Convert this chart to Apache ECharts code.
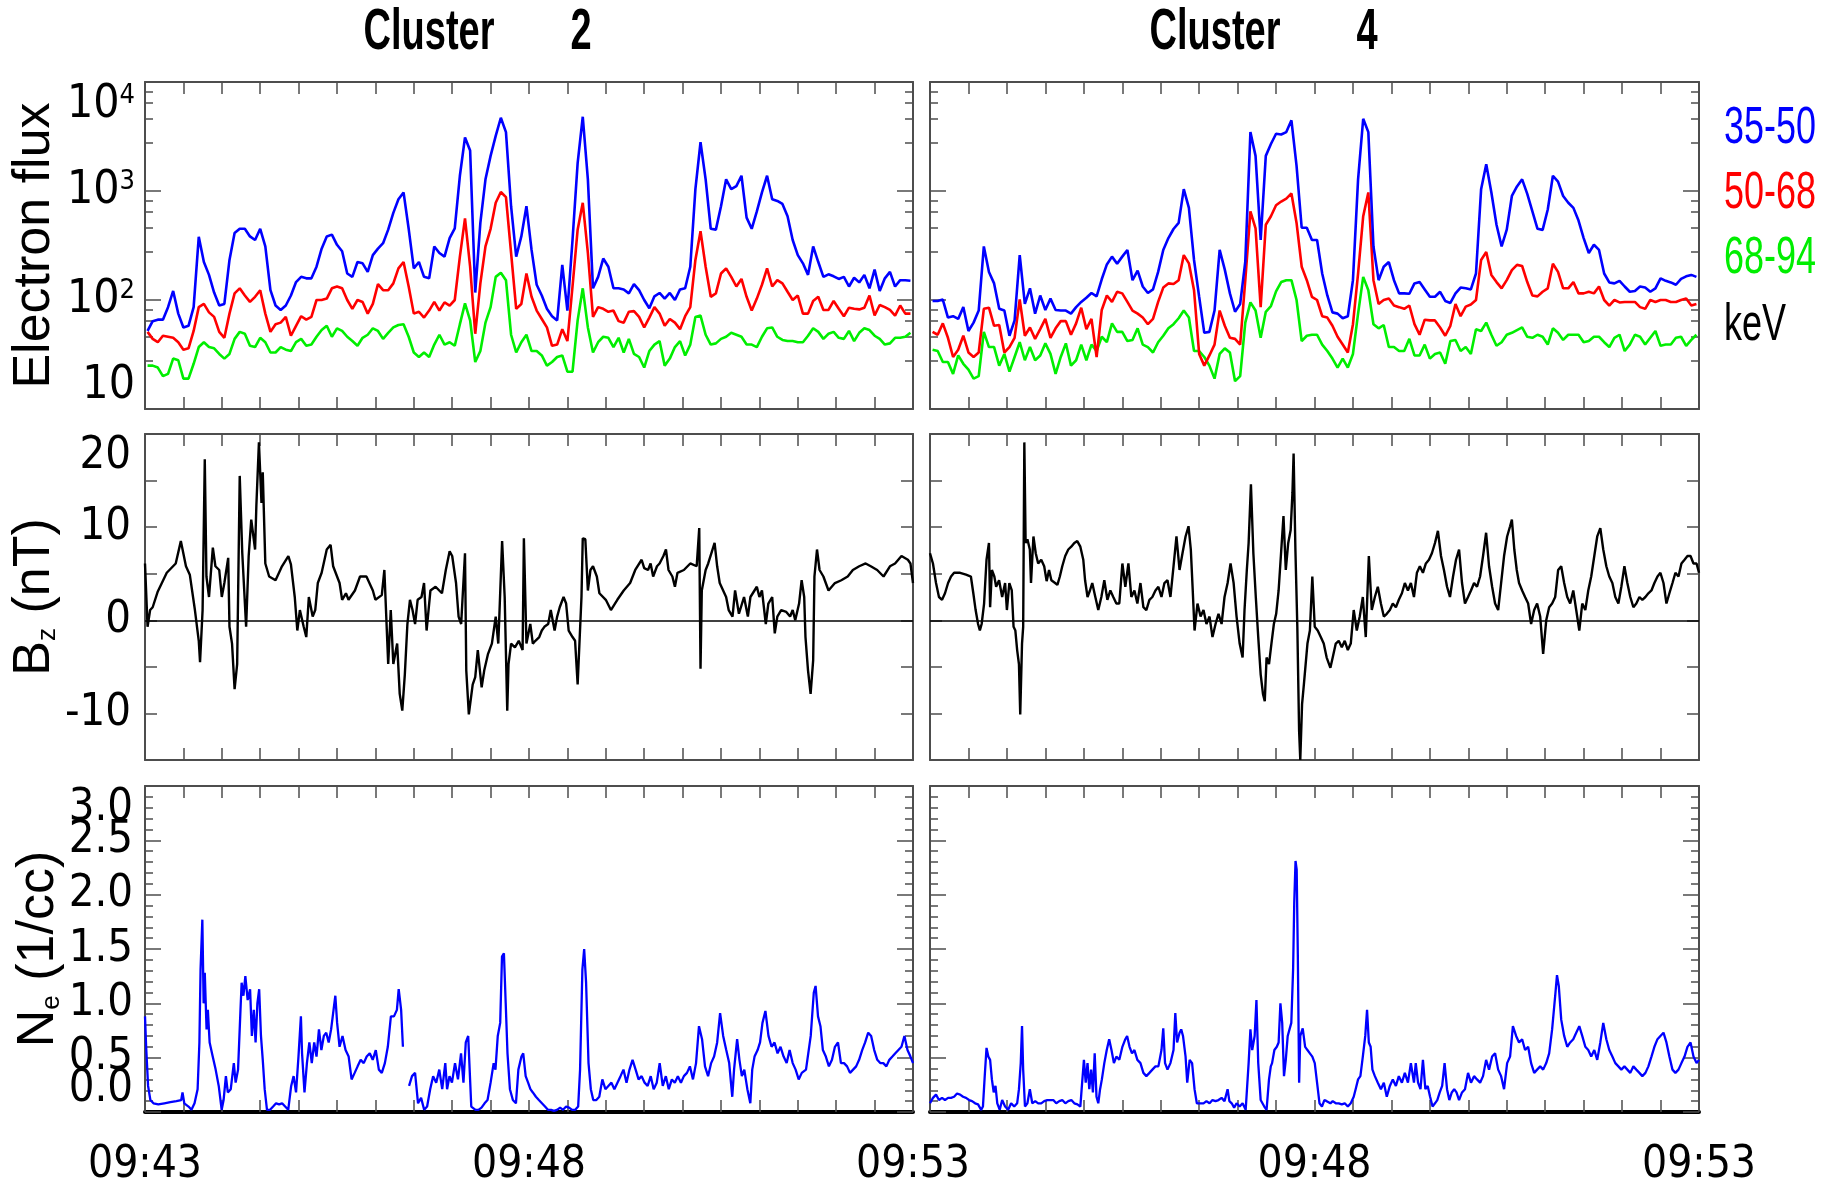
<!DOCTYPE html>
<html>
<head>
<meta charset="utf-8">
<script src="https://cdn.jsdelivr.net/npm/echarts@6/dist/echarts.min.js"></script>
<style>
  html, body { margin: 0; padding: 0; background: #ffffff; }
  #chart { width: 1843px; height: 1186px; }
</style>
</head>
<body>
<div id="chart"></div>
<script>
// ---- Electron flux (4 s spin resolution, first sample 09:43:02) ----
const FLUX_T0 = 2, FLUX_DT = 4;

const c2Flux35_50 = [
  52,64,66,66,86,121,75,56,58,86, 380,223,170,117,89,92,233,411,450,450,
  383,355,450,310,123,89,81,89,110,146, 163,158,158,202,296,383,398,321,280,175,
  163,223,217,181,258,296,332,442,630,840, 970,450,195,223,163,158,310,270,250,370,
  455,1380,3100,2350,117,509,1280,2100,3200,4700, 3470,725,250,383,725,
  288,138,110,83,71,65,210,80,355,1800, 4800,1280,128,163,240,202,128,128,125,115,
  140,123,100,84,108,116,103,116,100,125, 128,202,1040,2800,1280,450,442,725,1280,1040,
  1110,1380,570,450,650,970,1380,840,810,760, 587,355,258,217,170,310,223,163,172,165,
  156,163,133,160,145,170,128,190,121,158, 181,133,152,152,150
];
const c2Flux50_68 = [
  51,44,41,47,46,45,41,35,36,52, 86,92,77,70,51,45,75,115,128,110,
  96,107,123,75,51,60,62,70,47,58, 71,66,70,100,100,103,128,133,128,100,
  83,100,96,75,92,140,123,123,142,195, 223,133,75,78,69,80,96,80,95,89,
  100,250,560,202,49,142,310,450,780,980, 880,270,83,92,175,
  107,80,67,56,38,39,54,42,133,442, 780,270,70,86,83,78,80,64,62,78,
  79,70,56,69,86,75,58,67,62,54, 71,86,233,427,202,107,115,175,195,163,
  133,156,107,80,103,138,195,133,152,142, 119,100,110,75,75,98,107,81,81,98,
  83,71,85,83,82,85,110,72,90,86, 81,72,89,75,75
];
const c2Flux68_94 = [
  25,25,24,20,21,29,28,19,19,26, 37,41,37,36,32,29,32,44,51,49,
  38,37,45,41,33,33,37,35,34,41, 44,38,39,46,53,58,46,55,52,46,
  42,38,45,48,55,52,44,50,56,59, 60,46,33,30,33,30,39,48,39,41,
  38,60,93,65,27,34,62,86,163,178, 152,48,33,41,48,
  34,34,31,25,27,30,31,22,22,65, 128,56,33,41,46,45,37,45,33,44,
  32,30,24,34,39,42,25,29,37,42, 31,39,70,72,48,39,40,44,46,50,
  48,46,39,39,37,46,55,56,46,43, 42,42,41,41,47,55,51,44,49,51,
  45,44,52,42,50,55,53,47,44,39, 40,45,45,46,50
];
const c4Flux35_50 = [
  98,98,101,69,71,67,86,52,62,80, 310,181,142,83,80,47,65,258,92,128,
  75,110,81,103,81,80,80,75,86,96, 105,116,108,155,212,250,215,250,288,152,
  186,133,116,125,181,288,370,448,510,1040, 700,233,107,50,51,80,288,190,115,78,
  92,225,3470,2100,355,2100,2700,3350,3300,3470, 4450,1700,460,460,355,
  355,175,110,77,75,68,71,152,1280,4600, 3470,310,152,202,223,152,115,115,114,142,
  146,125,107,107,119,98,94,115,130,128, 125,175,1040,1760,970,490,310,442,900,1100,
  1280,940,650,450,440,676,1380,1220,900,780, 700,535,370,270,321,288,175,145,142,150,
  133,119,121,133,130,119,128,158,150,145, 138,156,165,170,163
];
const c4Flux50_68 = [
  51,48,61,45,30,35,47,33,30,33, 83,85,58,59,33,37,45,101,47,56,
  44,54,67,45,55,64,64,48,61,85, 54,67,30,81,110,96,119,115,96,80,
  75,69,60,67,96,130,142,140,152,258, 217,123,32,25,31,39,80,58,45,44,
  39,152,650,455,86,490,587,740,800,850, 950,509,202,152,107,
  100,71,69,58,46,39,33,60,175,587, 970,152,92,100,103,89,86,83,89,60,
  48,66,65,65,56,47,58,92,71,87, 91,100,233,276,170,146,128,152,188,210,
  205,146,110,108,119,128,215,181,128,128, 146,115,115,119,115,133,100,89,100,95,
  96,96,96,86,83,100,96,100,100,96, 96,100,103,89,92
];
const c4Flux68_94 = [
  35,34,27,27,21,31,26,23,19,20, 51,37,37,25,32,22,30,41,28,37,
  28,31,40,32,21,30,40,25,28,39, 28,39,34,46,41,61,51,51,42,43,
  55,39,37,33,41,47,55,60,68,80, 69,34,34,30,25,19,32,36,33,18,
  20,62,95,80,45,78,88,120,146,152, 152,100,42,47,48,
  48,39,34,29,24,29,24,32,75,163, 123,60,55,59,37,37,34,34,44,31,
  31,39,29,32,33,26,42,43,34,37, 32,54,52,62,48,38,41,48,50,53,
  56,46,45,48,46,39,55,50,43,48, 48,48,41,42,46,46,41,37,45,48,
  34,39,48,46,39,45,52,38,39,39, 45,46,38,43,48
];

// ---- Bz (nT), [seconds after 09:43:00, value] ----
const c2Bz = [
  [0,6.1],[2,-0.7],[4,1.1],[6,1.4],[10,3.1],[17,5.1],[24,6.1],[28,8.5],[32,5.8],[35,4.9],
  [39,1.1],[42,-2.2],[43,-4.5],[45,1.1],[46.7,17.3],[48,4.7],[50,2.5],[53,7.8],[55,5.8],[58,5.4],
  [60,2.5],[62,4.0],[65,6.7],[66,-0.7],[68,-2.5],[70,-7.4],[72,-4.7],[74,15.5],[76,7.2],[79,-0.7],
  [81,6.9],[83,10.8],[86,7.6],[87,12.3],[89,19.1],[91,12.6],[92,15.9],[94,6.1],[97,4.7],[102,4.3],
  [107,5.8],[112,6.9],[114,6.0],[117,2.5],[119,-1.1],[121,1.1],[124,-0.7],[126,-1.8],[128,2.5],[131,0.4],
  [133,1.1],[135,4.0],[138,5.1],[142,7.6],[145,8.1],[147,5.8],[152,4.0],[154,2.2],[157,2.9],[159,2.2],
  [164,3.2],[168,4.7],[173,4.7],[178,3.2],[180,2.2],[185,2.7],[187,5.4],[190,-4.7],[192,1.1],[194,-4.7],
  [197,-2.5],[199,-7.9],[201,-9.7],[203,-5.8],[205,-0.4],[207,2.2],[209,1.1],[211,-0.4],[213,2.2],[216,2.5],
  [218,4.0],[220,-1.1],[223,3.2],[227,3.6],[232,2.9],[235,5.4],[238,7.4],[240,6.9],[243,4.0],[245,0.4],
  [247,-0.4],[250,7.2],[251,-5.4],[253,-10.1],[256,-6.9],[258,-6.1],[260,-3.2],[263,-7.2],[265,-5.4],[268,-3.6],
  [271,-2.5],[274,0.4],[276,-2.5],[277,1.1],[279,8.5],[281,2.5],[283,-9.7],[284,-4.7],[286,-2.5],[289,-2.9],
  [292,-2.2],[295,-3.2],[296,8.8],[298,-2.5],[301,-0.4],[303,-2.5],[305,-2.2],[308,-1.8],[310,-1.1],[312,-0.7],
  [315,-0.4],[317,1.1],[320,-1.1],[322,0.4],[324,1.4],[327,2.5],[329,1.8],[331,-1.1],[334,-1.8],[336,-2.2],
  [338,-6.9],[341,2.5],[342,8.8],[344,8.7],[346,3.2],[348,5.4],[350,5.8],[353,4.7],[355,2.9],[360,2.2],
  [364,1.1],[369,2.2],[374,3.2],[379,4.0],[383,5.4],[388,6.5],[390,5.6],[393,5.4],[395,6.1],[397,4.7],
  [400,5.8],[402,6.1],[405,6.9],[407,7.6],[409,5.4],[412,4.7],[414,3.6],[416,5.1],[421,5.4],[426,6.1],
  [431,5.8],[433,9.9],[434,-5.2],[435,3.2],[438,5.4],[440,6.1],[445,8.3],[447,5.8],[449,4.0],[454,2.5],
  [456,1.1],[459,0.4],[461,3.2],[464,0.7],[468,2.5],[471,0.4],[473,2.5],[478,3.6],[480,2.5],[482,3.2],
  [485,-0.4],[487,1.8],[490,2.5],[492,-1.4],[494,0.4],[497,1.1],[501,0.9],[504,0.4],[506,1.1],[508,0],
  [511,1.8],[513,4.3],[515,2.5],[516,-1.8],[518,-5.4],[520,-7.9],[522,-4.3],[523,4.7],[525,7.6],[527,5.4],
  [530,4.7],[534,3.2],[539,4.0],[544,4.3],[549,4.7],[553,5.4],[558,5.8],[563,6.1],[567,5.8],[572,5.4],
  [577,4.7],[582,5.8],[586,6.1],[591,6.9],[596,6.5],[598,6.1],[600,4.0]
];
const c4Bz = [
  [0,7.2],[2.3,6.1],[4.7,4.0],[7,2.5],[9.4,2.2],[11.7,2.9],[14.1,4.0],[16.4,4.7],[18.8,5.1],[23.5,5.1],
  [28.1,4.9],[31.9,4.7],[33.8,2.9],[35.6,1.1],[37.5,-0.4],[38.9,-1.1],[40.3,-0.4],[42.2,1.8],[44.1,6.5],[46,8.3],
  [46.9,1.4],[48.3,5.4],[50.2,4.7],[51.6,3.6],[53.9,4.3],[56.3,2.5],[58.6,4.0],[60,1.1],[61.9,4.0],[63.8,3.2],
  [65.2,-0.7],[66.6,-1.1],[68,-3.2],[69.4,-4.7],[70.4,-10.1],[71.8,-2.5],[72.7,-0.7],[73.6,19.1],[74.6,8.3],[76,8.7],
  [77.9,7.6],[78.8,4.0],[80.7,9.0],[82.5,7.2],[84.4,6.1],[86.8,6.5],[89.1,5.8],[91,4.2],[92.9,5.4],[94.7,4.3],
  [97.6,4.0],[99.4,3.8],[101.3,4.7],[103.2,5.8],[105.5,6.9],[107.9,7.6],[110.2,7.9],[112.6,8.3],[114.9,8.5],[117.3,7.9],
  [119.6,6.5],[121,4.3],[122.9,2.5],[124.8,3.2],[126.6,4.0],[129,2.5],[131.3,1.1],[133.7,2.5],[136,4.3],[138.4,2.2],
  [140.7,3.2],[143,2.5],[145.4,1.8],[147.7,1.8],[150.1,6.1],[152.4,3.6],[154.8,6.1],[157.1,2.5],[159.5,3.2],[161.8,1.8],
  [164.2,4.0],[166.5,1.4],[168.8,1.1],[171.2,2.2],[173.5,2.5],[175.9,3.2],[178.2,3.6],[180.6,2.5],[182.9,4.0],[185.3,4.3],
  [187.6,2.5],[190,5.8],[192.3,9.0],[194.7,5.4],[197,7.2],[199.4,9.0],[201.7,10.1],[203.5,7.6],[205,3.2],[206.4,-1.1],
  [208.7,1.8],[211.1,0.4],[213.4,1.1],[215.7,-0.4],[218.1,0.4],[220.4,-1.8],[222.8,-0.4],[225.1,0.7],[227.5,-0.4],[229.8,2.5],
  [232.2,4.0],[234.5,6.1],[236.9,4.0],[239.2,0.4],[241.6,-2.5],[243.9,-4.0],[245.4,1.1],[247.2,5.4],[248.6,8.3],[250.4,14.6],
  [252.3,7.2],[254.2,2.5],[256.1,-1.8],[258,-5.8],[259.8,-7.9],[261.2,-8.7],[262.6,-4.0],[264.5,-4.7],[266.4,-2.5],[268.3,-0.4],
  [270.1,0.7],[272,3.2],[273.9,7.2],[275.8,11.2],[277.6,5.4],[279.5,8.3],[281.4,9.7],[282.8,13.7],[283.7,17.9],[285.1,7.6],
  [286.6,-0.7],[288,-11.9],[288.9,-15],[290.3,-9.0],[291.7,-6.9],[293.1,-4.7],[294.5,-2.5],[296.4,-1.1],[298.3,4.7],[300.2,-0.7],
  [302.5,-1.1],[304.9,-1.8],[307.2,-2.5],[309.5,-4.0],[312.4,-5.1],[314.2,-4.0],[316.6,-2.5],[318.9,-2.2],[321.3,-2.9],[323.6,-2.2],
  [326,-3.2],[328.3,-2.5],[330.6,1.1],[333,-1.1],[335.3,0.4],[337.7,2.5],[340,-1.8],[342.4,6.9],[344.7,1.1],[347.1,2.5],
  [349.4,3.6],[351.8,1.8],[354.1,0.4],[356.4,0.7],[358.8,1.1],[361.1,1.8],[363.5,1.4],[365.8,2.2],[368.2,2.9],[370.5,4.0],
  [372.9,3.2],[375.2,4.0],[377.6,2.5],[379.9,5.1],[382.2,5.8],[384.6,5.1],[386.9,6.1],[389.3,6.5],[391.6,7.2],[394,8.3],
  [396.3,9.6],[398.7,6.9],[401,5.4],[403.4,3.6],[405.7,2.5],[408.1,4.7],[410.4,6.5],[412.8,7.6],[415.1,4.0],[417.4,1.8],
  [419.8,2.5],[422.1,3.2],[424.5,4.0],[426.8,3.6],[429.2,4.7],[431.5,6.9],[433.9,9.4],[436.2,5.8],[438.6,3.6],[440.9,1.8],
  [443.3,1.1],[445.6,4.0],[447.9,6.9],[450.3,9.0],[452.6,10.1],[454,10.8],[455.9,7.6],[457.8,5.4],[459.6,4.0],[462,3.2],
  [464.3,2.5],[466.7,1.8],[469,-0.4],[471.4,1.1],[473.7,1.8],[476.1,0.4],[478.4,-3.6],[480.8,0],[483.1,1.4],[485.4,1.8],
  [487.8,2.5],[490.1,5.4],[492.5,5.8],[494.8,4.0],[497.2,2.5],[499.5,1.8],[501.9,3.2],[504.2,1.1],[506.6,-1.1],[508.9,1.8],
  [511.3,1.1],[513.6,3.2],[515.9,4.7],[518.3,6.9],[520.6,9.0],[523,9.9],[525.3,7.6],[527.7,5.8],[530,4.7],[532.4,4.0],
  [534.7,2.5],[537.1,1.8],[539.4,3.6],[541.8,5.8],[544.1,4.0],[546.4,2.5],[548.8,1.4],[551.1,1.8],[553.5,2.5],[555.8,2.2],
  [558.2,2.5],[560.5,2.9],[562.9,3.2],[565.2,4.0],[567.6,4.7],[569.9,5.1],[572.3,4.0],[574.6,1.8],[576.9,2.9],[579.3,4.0],
  [581.6,5.1],[584,4.7],[586.3,6.1],[588.7,6.5],[591,6.9],[593.4,6.9],[595.7,6.1],[598.1,6.1],[600,5.1]
];

// ---- Electron density Ne (1/cc), [seconds after 09:43:00, value]; null marks a data gap ----
const c2Ne = [
  [0,0.88],[0.9,0.6],[2.4,0.24],[4.2,0.11],[6.6,0.08],[10.4,0.07],[15.1,0.08],[19.8,0.09],[24.5,0.1],[28.3,0.11],
  [29.3,0.18],[30.7,0.08],[34,0.05],[36.3,0.02],[38.7,0.08],[41.1,0.21],[42.5,0.64],[43.4,1.31],[44.8,1.77],[45.8,1.0],
  [46.7,1.28],[48.1,0.76],[49.1,0.94],[50.5,0.64],[52.9,0.51],[55.2,0.39],[57.6,0.24],[59.9,0.02],[61.4,0.11],[63.2,0.33],
  [64.7,0.18],[67,0.21],[69.4,0.45],[70.8,0.27],[72.7,0.39],[74.6,0.94],[75.5,1.19],[76.9,1.07],[78.4,1.25],[80.2,1.03],
  [82.1,1.13],[83.5,0.7],[85,0.94],[86.4,0.64],[87.8,1.0],[89.2,1.13],[90.6,0.7],[92,0.48],[93.5,0.21],[95.3,0.02],
  [97.7,0.02],[100.1,0.05],[102.4,0.08],[104.8,0.07],[107.1,0.08],[109.5,0.05],[111.9,0.02],[114.2,0.24],[116.1,0.33],[118,0.18],
  [119.9,0.51],[121.8,0.88],[122.7,0.54],[124.6,0.18],[126.5,0.45],[128.4,0.64],[130.3,0.45],[132.2,0.64],[134,0.51],[135.9,0.76],
  [137.8,0.57],[139.7,0.7],[141.6,0.73],[143.5,0.64],[145.4,0.76],[147.3,0.94],[148.7,1.07],[150.1,0.82],[152,0.6],[154.3,0.7],
  [156.7,0.57],[159.1,0.51],[161.4,0.3],[163.8,0.36],[166.1,0.42],[168.5,0.48],[170.9,0.45],[173.2,0.51],[175.6,0.54],[177.9,0.48],
  [180.3,0.57],[182.7,0.39],[185,0.36],[187.4,0.45],[189.7,0.6],[192.1,0.88],[194.5,0.88],[196.8,0.94],[198.2,1.13],[200.1,0.94],
  [201.5,0.6],[204,null],
  [206.3,0.24],[208.6,0.33],[211,0.36],[213.3,0.08],[215.7,0.13],[218.1,0.02],[220.4,0.05],[222.8,0.21],[225.1,0.33],[227.5,0.27],
  [229.9,0.39],[232.2,0.21],[234.6,0.45],[236,0.21],[237.9,0.33],[239.8,0.27],[242.2,0.45],[244.5,0.3],[246.9,0.54],[248.8,0.27],
  [250.6,0.64],[252.5,0.7],[254.9,0.05],[255.8,0.04],[258.2,0.02],[260.5,0.02],[262.9,0.04],[265.3,0.08],[267.6,0.11],[270,0.27],
  [272.4,0.45],[273.8,0.39],[275.6,0.7],[277.5,0.82],[278.9,1.43],[280.4,1.46],[281.8,1.0],[283.2,0.54],[285.1,0.21],[287.4,0.11],
  [289.8,0.08],[291.7,0.39],[294.1,0.51],[295.5,0.54],[297.4,0.33],[299.3,0.27],[301.1,0.21],[303,0.18],[305.4,0.14],[307.7,0.11],
  [310.1,0.08],[312.5,0.05],[314.8,0.02],[317.2,0.02],[319.5,0.01],[321.9,0.02],[324.3,0.04],[326.6,0.02],[329,0.05],[331.3,0.04],
  [333.7,0.02],[336.1,0.02],[338.4,0.05],[339.9,0.39],[341.7,1.31],[343.1,1.5],[344.6,1.19],[346.5,0.45],[348.3,0.21],[350.2,0.11],
  [352.6,0.11],[354.9,0.14],[357.3,0.3],[359.7,0.21],[362,0.24],[364.4,0.27],[366.7,0.21],[369.1,0.27],[371.5,0.33],[373.8,0.39],
  [376.2,0.27],[378.5,0.39],[380.9,0.48],[383.3,0.39],[385.6,0.3],[388,0.33],[390.3,0.27],[392.7,0.24],[395.1,0.33],[397.4,0.21],
  [399.8,0.27],[402.1,0.45],[404.5,0.24],[406.9,0.33],[409.2,0.21],[411.6,0.3],[413.9,0.27],[416.3,0.33],[418.7,0.27],[421,0.33],
  [423.4,0.36],[425.7,0.42],[428.1,0.3],[430.5,0.45],[432.8,0.79],[435.2,0.67],[437.5,0.42],[439.9,0.33],[442.3,0.45],[444.6,0.51],
  [447,0.64],[449.3,0.91],[451.7,0.7],[454.1,0.57],[456.4,0.45],[458.8,0.14],[460.2,0.39],[462.6,0.67],[464.4,0.48],[466.3,0.33],
  [468.2,0.39],[470.6,0.21],[472.9,0.08],[474.4,0.39],[476.2,0.51],[478.6,0.57],[480.5,0.64],[482.4,0.82],[484.7,0.93],[487.1,0.7],
  [489.5,0.6],[491.8,0.64],[494.2,0.54],[496.5,0.6],[498.9,0.51],[501.3,0.45],[503.6,0.57],[506,0.45],[508.3,0.39],[510.7,0.3],
  [513.1,0.36],[516.4,0.39],[520.1,0.7],[522.5,1.1],[523.9,1.16],[525.8,0.88],[527.7,0.79],[529.6,0.57],[531.9,0.51],[534.3,0.42],
  [536.7,0.48],[539,0.6],[541.4,0.64],[543.7,0.45],[546.1,0.45],[548.5,0.42],[550.8,0.36],[553.2,0.39],[555.6,0.42],[557.9,0.48],
  [560.3,0.57],[562.6,0.64],[565,0.73],[567.3,0.7],[569.7,0.57],[572.1,0.48],[574.4,0.45],[576.8,0.45],[579.2,0.42],[581.5,0.48],
  [583.9,0.51],[586.2,0.54],[588.6,0.57],[591,0.6],[593.3,0.7],[595.7,0.57],[598,0.51],[600,0.45]
];
const c4Ne = [
  [0,0.08],[2.3,0.13],[4.7,0.16],[7,0.11],[9.4,0.13],[11.7,0.11],[14.1,0.13],[16.4,0.13],[18.8,0.14],[21.1,0.17],
  [23.5,0.16],[25.8,0.14],[28.1,0.13],[30.5,0.11],[32.8,0.1],[35.2,0.08],[37.5,0.07],[39.9,0.02],[41.3,0.05],[42.7,0.33],
  [44.1,0.59],[45.5,0.51],[46.9,0.48],[48.3,0.3],[49.7,0.18],[51.1,0.24],[52.5,0.08],[54.4,0.02],[56.3,0.11],[58.6,0.05],
  [61,0.02],[63.3,0.08],[65.7,0.05],[68,0.08],[69.4,0.21],[70.8,0.45],[71.8,0.79],[72.7,0.39],[74.1,0.05],[76,0.08],
  [77.9,0.21],[79.8,0.08],[82.1,0.1],[84.4,0.08],[86.8,0.08],[89.1,0.1],[91.5,0.11],[93.8,0.11],[96.2,0.11],[98.5,0.08],
  [100.9,0.1],[103.2,0.11],[105.6,0.08],[107.9,0.1],[110.3,0.11],[112.6,0.08],[115,0.07],[117.3,0.05],[118.7,0.27],[120.1,0.48],
  [121.5,0.27],[122.9,0.45],[124.3,0.21],[125.7,0.39],[127.1,0.18],[128.5,0.54],[129.9,0.14],[131.3,0.08],[132.7,0.21],[134.1,0.3],
  [136,0.45],[137.9,0.57],[139.8,0.67],[141.6,0.57],[143.5,0.45],[145.4,0.51],[147.7,0.48],[150.1,0.6],[152.4,0.67],[153.8,0.7],
  [155.7,0.6],[157.6,0.54],[159.5,0.57],[161.8,0.48],[164.2,0.45],[166.5,0.36],[168.8,0.33],[171.2,0.36],[173.5,0.39],[175.9,0.42],
  [178.2,0.42],[180.6,0.57],[182,0.77],[183.4,0.45],[185.3,0.39],[187.6,0.45],[190,0.57],[191.4,0.91],[192.8,0.64],[194.7,0.73],
  [196,0.76],[197.4,0.7],[199.4,0.51],[200.7,0.27],[202.6,0.48],[204.5,0.45],[206.4,0.21],[208.2,0.08],[211.1,0.08],[213.4,0.08],
  [215.7,0.1],[218.1,0.08],[220.4,0.11],[222.8,0.1],[225.1,0.11],[227.5,0.13],[229.8,0.1],[232.2,0.21],[233.6,0.1],[235.4,0.08],
  [237.3,0.04],[239.2,0.08],[241.6,0.05],[243.9,0.08],[246.3,0.02],[248.6,0.45],[250,0.76],[251.4,0.57],[253.3,0.7],[254.7,1.03],
  [256.1,0.45],[258,0.11],[259.4,0.08],[260.8,0.05],[262.6,0.02],[264.5,0.3],[265.9,0.42],[266.9,0.45],[268.7,0.57],[270.6,0.6],
  [272,0.64],[273.4,1.0],[274.8,0.82],[276.2,0.33],[277.6,0.48],[279.1,0.7],[280.5,0.76],[281.9,0.82],[283.3,1.31],[284.2,1.93],
  [285.2,2.31],[286.1,2.23],[287,1.43],[288,0.27],[288.9,0.7],[290.8,0.77],[292.7,0.6],[294.5,0.57],[296.4,0.54],[298.3,0.51],
  [300.2,0.45],[302,0.27],[303.9,0.08],[305.8,0.05],[307.7,0.11],[309.5,0.1],[312.4,0.08],[314.2,0.1],[316.6,0.08],[318.9,0.08],
  [321.3,0.07],[323.6,0.08],[326,0.05],[328.3,0.08],[330.6,0.14],[332.1,0.21],[334,0.3],[335.8,0.33],[337.7,0.51],[339.6,0.7],
  [341,0.94],[342.4,0.64],[343.8,0.6],[345.2,0.39],[347.1,0.33],[349.4,0.27],[351.8,0.21],[354.1,0.27],[356.4,0.14],[358.8,0.24],
  [361.1,0.3],[363.5,0.24],[365.8,0.33],[368.2,0.27],[370.5,0.36],[372.9,0.27],[375.2,0.45],[377.6,0.27],[379,0.45],[380.8,0.27],
  [382.7,0.21],[384.6,0.48],[386.5,0.21],[388.3,0.24],[390.2,0.14],[392.1,0.05],[394,0.08],[395.8,0.11],[397.7,0.18],[399.6,0.24],
  [401.5,0.45],[403.4,0.21],[405.2,0.11],[407.1,0.18],[409,0.21],[410.8,0.18],[412.8,0.11],[415.1,0.18],[417.4,0.21],[419.8,0.36],
  [422.1,0.27],[424.5,0.33],[426.8,0.3],[429.2,0.27],[431.5,0.33],[433.9,0.48],[436.2,0.39],[438.6,0.51],[440.9,0.54],[443.3,0.39],
  [445.6,0.33],[447.9,0.21],[450.3,0.45],[452.6,0.51],[454.8,0.79],[457.3,0.7],[459.6,0.64],[462,0.67],[464.3,0.57],[466.7,0.6],
  [469,0.45],[471.4,0.36],[473.7,0.39],[476.1,0.42],[478.4,0.39],[480.8,0.45],[483.1,0.54],[485.4,0.76],[487.8,1.07],[489.2,1.26],
  [490.6,1.16],[492.5,0.85],[494.8,0.7],[497.2,0.6],[499.5,0.64],[501.9,0.67],[504.2,0.73],[506.6,0.79],[508.9,0.7],[511.3,0.6],
  [513.6,0.57],[515.9,0.51],[518.3,0.57],[520.6,0.48],[523,0.64],[525.3,0.82],[527.7,0.67],[530,0.57],[532.4,0.51],[534.7,0.45],
  [537.1,0.42],[539.4,0.39],[541.8,0.42],[544.1,0.39],[546.4,0.36],[548.8,0.42],[551.1,0.39],[553.5,0.36],[555.8,0.33],[558.2,0.36],
  [560.5,0.42],[562.9,0.51],[565.2,0.6],[567.6,0.67],[569.9,0.7],[572.3,0.73],[574.6,0.64],[576.9,0.51],[579.3,0.39],[581.6,0.36],
  [584,0.39],[586.3,0.45],[588.7,0.51],[591,0.6],[593.4,0.64],[595.7,0.51],[598.1,0.45],[600,0.48]
];

// ---- Labels ----
const spacecraft = ['2', '4'];
const timeTickLabels = ['09:43', '09:48', '09:53'];   // every 300 s
const energyBands = ['35-50', '50-68', '68-94'];
const energyUnit = 'keV';

// ---------------------------------------------------------------
const NARROW = "'Liberation Sans Narrow', 'DejaVu Sans Condensed', 'Liberation Sans', sans-serif";
const SANS = "'Liberation Sans', Arial, sans-serif";
const FRAME = '#4d4d4d';
const BAND_COLORS = ['#0000ff', '#ff0000', '#00ee00'];

function fluxPairs(values) {
  return values.map((v, i) => [FLUX_T0 + i * FLUX_DT, v]);
}

const cols = [{ left: 145, width: 768 }, { left: 930, width: 769 }];
const rows = [{ top: 82, height: 327 }, { top: 434, height: 326 }, { top: 786, height: 326 }];

const grid = [];
rows.forEach(r => cols.forEach(c => grid.push({
  left: c.left, top: r.top, width: c.width, height: r.height, outerBoundsMode: 'none'
})));

const frameLine = { show: true, onZero: false, lineStyle: { color: FRAME, width: 2 } };

const xAxis = [];
const yAxis = [];
const dataYAxis = [];   // index of the y axis each panel's series are drawn against

grid.forEach((g, gi) => {
  const row = Math.floor(gi / 2), col = gi % 2;
  const common = {
    gridIndex: gi, type: 'value', min: 0, max: 600, interval: 30,
    axisLine: frameLine,
    axisTick: { show: true, inside: true, length: 12, lineStyle: { color: FRAME, width: 1.5 } },
    splitLine: { show: false }
  };
  const showTime = row === 2;
  xAxis.push(Object.assign({}, common, {
    position: 'bottom',
    axisLine: showTime ? { show: true, onZero: false, lineStyle: { color: '#000', width: 4 } } : frameLine,
    axisLabel: {
      show: showTime, margin: 32, fontFamily: NARROW, fontSize: 44, color: '#000',
      showMinLabel: true, showMaxLabel: true,
      formatter: v => (v % 300 === 0 && !(col === 1 && v === 0)) ? timeTickLabels[v / 300] : ''
    }
  }));
  xAxis.push(Object.assign({}, common, { position: 'top', axisLabel: { show: false } }));
});

const neRich = {
  b: { fontFamily: SANS, fontSize: 52, color: '#000', verticalAlign: 'top', lineHeight: 52 },
  z: { fontFamily: SANS, fontSize: 26, color: '#000', verticalAlign: 'bottom', lineHeight: 26 }
};

// y axes: left (labelled on the Cluster 2 column) and right (ticks only) for every panel
grid.forEach((g, gi) => {
  const row = Math.floor(gi / 2), col = gi % 2;
  let base;
  if (row === 0) {
    base = {
      type: 'log', logBase: 10, min: 10, max: 10000,
      axisTick: { show: true, inside: true, length: 16, lineStyle: { color: FRAME, width: 1.5 } },
      minorTick: { show: true, splitNumber: 5, length: 8, lineStyle: { color: FRAME, width: 1.5 } },
      axisLabel: {
        fontFamily: NARROW, color: '#000', margin: 10,
        showMinLabel: true, showMaxLabel: true,
        verticalAlignMinLabel: 'bottom', verticalAlignMaxLabel: 'top',
        formatter: v => {
          const e = Math.round(Math.log10(v));
          return e === 1 ? '{b|10}' : '{b|10}{s|' + e + '}';
        },
        rich: {
          b: { fontFamily: NARROW, fontSize: 46, lineHeight: 46, color: '#000', verticalAlign: 'bottom' },
          s: { fontFamily: NARROW, fontSize: 27, lineHeight: 27, color: '#000', verticalAlign: 'top' }
        }
      },
      name: 'Electron flux', nameGap: 84,
      nameTextStyle: { fontFamily: SANS, fontSize: 52, color: '#000' }
    };
  } else if (row === 1) {
    base = {
      type: 'value', min: -15, max: 20, interval: 5,
      axisTick: { show: true, inside: true, length: 12, lineStyle: { color: FRAME, width: 1.5 } },
      axisLabel: {
        fontFamily: NARROW, fontSize: 45, color: '#000', margin: 14,
        showMinLabel: true, showMaxLabel: true,
        verticalAlignMaxLabel: 'top',
        formatter: v => (v % 10 === 0) ? String(v) : ''
      },
      name: '{b|B}{z|z}{b| (nT)}', nameGap: 84,
      nameTextStyle: { rich: neRich }
    };
  } else {
    // inner labels 0.5 … 2.5 on the main axis; the end labels come from a companion axis
    base = {
      type: 'value', min: 0, max: 3, interval: 0.5,
      axisTick: { show: true, inside: true, length: 16, lineStyle: { color: FRAME, width: 1.5 } },
      minorTick: { show: true, splitNumber: 5, length: 8, lineStyle: { color: FRAME, width: 1.5 } },
      axisLabel: {
        fontFamily: NARROW, fontSize: 45, color: '#000', margin: 12,
        showMinLabel: false, showMaxLabel: false,
        formatter: v => v.toFixed(1)
      },
      name: '{b|N}{z|e}{b| (1/cc)}', nameGap: 80,
      nameTextStyle: { rich: neRich }
    };
  }
  const left = Object.assign({}, base, {
    gridIndex: gi, position: 'left', axisLine: frameLine, splitLine: { show: false },
    nameLocation: 'middle', nameRotate: 90,
    axisLabel: Object.assign({}, base.axisLabel, { show: col === 0 }),
    name: col === 0 ? base.name : ''
  });
  const right = Object.assign({}, base, {
    gridIndex: gi, position: 'right', axisLine: frameLine, splitLine: { show: false },
    axisLabel: { show: false }, name: ''
  });
  dataYAxis[gi] = yAxis.length;
  yAxis.push(left, right);
  if (row === 2 && col === 0) {
    yAxis.push({
      gridIndex: gi, type: 'value', min: 0, max: 3, interval: 0.5, position: 'left',
      axisLine: { show: false }, axisTick: { show: false }, splitLine: { show: false },
      axisLabel: {
        fontFamily: NARROW, fontSize: 45, color: '#000', margin: 12,
        showMinLabel: true, showMaxLabel: true,
        verticalAlignMinLabel: 'bottom', verticalAlignMaxLabel: 'top',
        formatter: v => (v === 0 || v === 3) ? v.toFixed(1) : ''
      }
    });
  }
});

const series = [];
const fluxSets = [
  [c2Flux35_50, c2Flux50_68, c2Flux68_94],
  [c4Flux35_50, c4Flux50_68, c4Flux68_94]
];
// draw the high band first so the blue trace sits on top
fluxSets.forEach((set, col) => {
  [2, 1, 0].forEach(b => {
    series.push({
      type: 'line', name: energyBands[b], xAxisIndex: col * 2, yAxisIndex: dataYAxis[col],
      data: fluxPairs(set[b]), showSymbol: false, symbol: 'none',
      lineStyle: { color: BAND_COLORS[b], width: 2.6 }, itemStyle: { color: BAND_COLORS[b] },
      z: 3 + (2 - b)
    });
  });
});
[c2Bz, c4Bz].forEach((d, col) => {
  const gi = 2 + col;
  series.push({
    type: 'line', name: 'Bz', xAxisIndex: gi * 2, yAxisIndex: dataYAxis[gi],
    data: d, showSymbol: false, symbol: 'none',
    lineStyle: { color: '#000', width: 2.4 },
    markLine: {
      silent: true, symbol: ['none', 'none'], label: { show: false },
      lineStyle: { color: '#000', width: 1.5, type: 'solid' },
      data: [{ yAxis: 0 }], animation: false
    }
  });
});
[c2Ne, c4Ne].forEach((d, col) => {
  const gi = 4 + col;
  series.push({
    type: 'line', name: 'Ne', xAxisIndex: gi * 2, yAxisIndex: dataYAxis[gi],
    data: d, showSymbol: false, symbol: 'none', connectNulls: false,
    lineStyle: { color: '#0000ff', width: 2.3 }
  });
});

// panel titles and energy-band key
const graphic = [];
const titleCenters = [[429, 581], [1215, 1367]];
titleCenters.forEach((pos, i) => {
  graphic.push({
    type: 'text', x: pos[0], y: 33, scaleY: 1.5,
    style: { text: 'Cluster', font: 'bold 38px ' + SANS, fill: '#000', textAlign: 'center', textVerticalAlign: 'middle' }
  });
  graphic.push({
    type: 'text', x: pos[1], y: 33, scaleY: 1.5,
    style: { text: spacecraft[i], font: 'bold 38px ' + SANS, fill: '#000', textAlign: 'center', textVerticalAlign: 'middle' }
  });
});
const keyRows = [129, 194, 259, 326];
energyBands.concat([energyUnit]).forEach((t, i) => {
  graphic.push({
    type: 'text', x: 1724, y: keyRows[i], scaleY: 1.45,
    style: { text: t, font: '36px ' + SANS, fill: i < 3 ? BAND_COLORS[i] : '#000', textAlign: 'left', textVerticalAlign: 'middle' }
  });
});

const chart = echarts.init(document.getElementById('chart'));
chart.setOption({
  animation: false,
  backgroundColor: '#ffffff',
  grid, xAxis, yAxis, series, graphic
});
</script>
</body>
</html>
